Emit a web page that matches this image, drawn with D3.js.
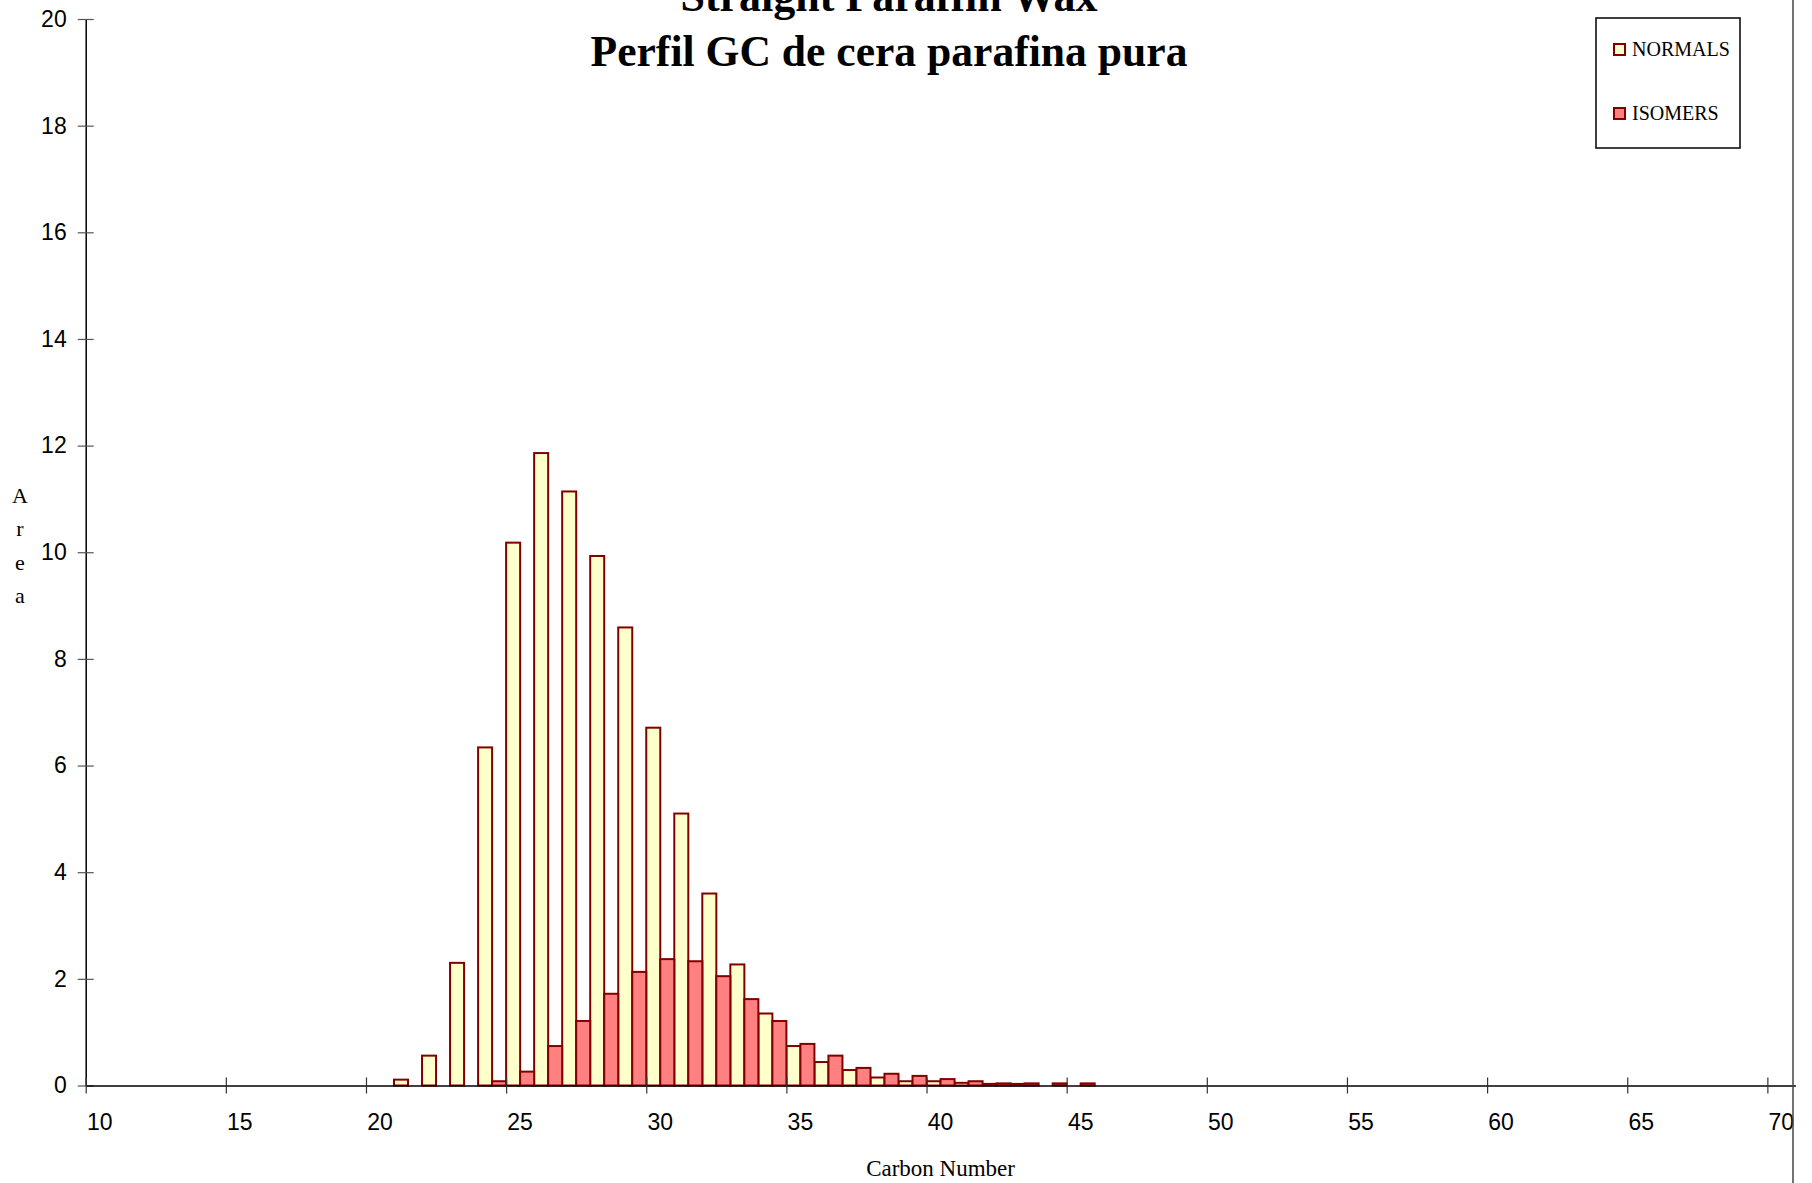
<!DOCTYPE html>
<html>
<head>
<meta charset="utf-8">
<script src="https://cdn.jsdelivr.net/npm/d3@7"></script>
<style>
  body { margin: 0; background: #fff; }
  svg { display: block; }
</style>
</head>
<body>
<div id="chart"></div>
<script>
// Data
const carbon = [21, 22, 23, 24, 25, 26, 27, 28, 29, 30, 31, 32, 33, 34, 35, 36, 37, 38, 39, 40, 41, 42, 43, 44, 45];
const normals = [0.11, 0.56, 2.3, 6.34, 10.18, 11.86, 11.14, 9.93, 8.59, 6.71, 5.1, 3.6, 2.27, 1.35, 0.74, 0.44, 0.29, 0.15, 0.08, 0.08, 0.05, 0.03, 0.03, 0, 0];
const isomers = [0, 0, 0, 0.08, 0.26, 0.74, 1.21, 1.72, 2.13, 2.37, 2.33, 2.05, 1.62, 1.21, 0.78, 0.56, 0.33, 0.22, 0.18, 0.12, 0.08, 0.04, 0.04, 0.04, 0.04];
const xTicks = [10, 15, 20, 25, 30, 35, 40, 45, 50, 55, 60, 65, 70];
const yTicks = [0, 2, 4, 6, 8, 10, 12, 14, 16, 18, 20];

const W = 1812, H = 1183;
const svg = d3.select("#chart").append("svg")
    .attr("width", W)
    .attr("height", H);

// category axis: each carbon number n takes [n, n+1)
const x = d3.scaleLinear().domain([10, 71]).range([85.7, 1795.4]);
const y = d3.scaleLinear().domain([0, 20]).range([1085.5, 19]);

const strokeCol = "#800000";

// Bars - normals take the left half of a category, isomers the right half
function drawBars(values, offset, fill) {
    svg.append("g")
        .selectAll("rect")
        .data(carbon.map((c, i) => ({ c: c, v: values[i] })).filter(d => d.v > 0))
        .join("rect")
        .attr("x", d => x(d.c + offset))
        .attr("width", d => x(d.c + offset + 0.5) - x(d.c + offset))
        .attr("y", d => y(d.v))
        .attr("height", d => y(0) - y(d.v))
        .attr("fill", fill)
        .attr("stroke", strokeCol)
        .attr("stroke-width", 2);
}
drawBars(normals, 0, "#FFFFCC");
drawBars(isomers, 0.5, "#FF8080");

// Y axis
const yAxis = svg.append("g")
    .attr("transform", `translate(${x(10)},0)`)
    .call(d3.axisLeft(y).tickValues(yTicks).tickSize(8).tickSizeOuter(0));
yAxis.select(".domain").attr("stroke", "#000").attr("stroke-width", 1.5);
yAxis.selectAll(".tick line").attr("x1", 8).attr("x2", -8).attr("stroke", "#555").attr("stroke-width", 1.2);
yAxis.selectAll(".tick text")
    .attr("x", -19)
    .style("font-family", "Liberation Sans, Arial, sans-serif")
    .style("font-size", "23px")
    .attr("fill", "#000");

// X axis (ticks on category boundaries, labels in the middle of the category)
const xAxis = svg.append("g")
    .attr("transform", `translate(0,${y(0)})`)
    .call(d3.axisBottom(x).tickValues(xTicks).tickSize(8).tickSizeOuter(0).tickFormat(""));
xAxis.select(".domain").attr("stroke", "#000").attr("stroke-width", 1.5);
xAxis.selectAll(".tick line").attr("y1", -8).attr("y2", 8).attr("stroke", "#333").attr("stroke-width", 1.2);

svg.append("g")
    .selectAll("text")
    .data(xTicks)
    .join("text")
    .attr("x", d => x(d + 0.5))
    .attr("y", 1130)
    .attr("text-anchor", "middle")
    .style("font-family", "Liberation Sans, Arial, sans-serif")
    .style("font-size", "23px")
    .text(d => d);

// Right border line
svg.append("line")
    .attr("x1", 1793).attr("x2", 1793)
    .attr("y1", 0).attr("y2", H)
    .attr("stroke", "#444")
    .attr("stroke-width", 1.5);

// Titles (first line sits partly above the top edge, as in the original)
const serif = "Liberation Serif, Times New Roman, serif";
svg.append("text")
    .attr("x", 889).attr("y", 11)
    .attr("text-anchor", "middle")
    .style("font-family", serif).style("font-size", "44px").style("font-weight", "bold")
    .text("Straight Paraffin Wax");
svg.append("text")
    .attr("x", 889).attr("y", 66)
    .attr("text-anchor", "middle")
    .style("font-family", serif).style("font-size", "43.6px").style("font-weight", "bold")
    .text("Perfil GC de cera parafina pura");

// Axis titles
svg.append("text")
    .attr("x", x(40.5)).attr("y", 1176)
    .attr("text-anchor", "middle")
    .style("font-family", serif).style("font-size", "23px")
    .text("Carbon Number");

const areaLetters = ["A", "r", "e", "a"];
svg.append("g")
    .selectAll("text")
    .data(areaLetters)
    .join("text")
    .attr("x", 20)
    .attr("y", (d, i) => 503 + i * 33.3)
    .attr("text-anchor", "middle")
    .style("font-family", serif).style("font-size", "22px")
    .text(d => d);

// Legend
const legend = svg.append("g");
legend.append("rect")
    .attr("x", 1596).attr("y", 18)
    .attr("width", 144).attr("height", 130)
    .attr("fill", "#fff")
    .attr("stroke", "#000")
    .attr("stroke-width", 1.5);
const legendItems = [
    { name: "NORMALS", fill: "#FFFFCC", yy: 44 },
    { name: "ISOMERS", fill: "#FF8080", yy: 108 }
];
legendItems.forEach(it => {
    legend.append("rect")
        .attr("x", 1614).attr("y", it.yy)
        .attr("width", 11).attr("height", 11)
        .attr("fill", it.fill)
        .attr("stroke", strokeCol)
        .attr("stroke-width", 2);
    legend.append("text")
        .attr("x", 1632).attr("y", it.yy + 12)
        .style("font-family", serif).style("font-size", "20px")
        .text(it.name);
});
</script>
</body>
</html>
